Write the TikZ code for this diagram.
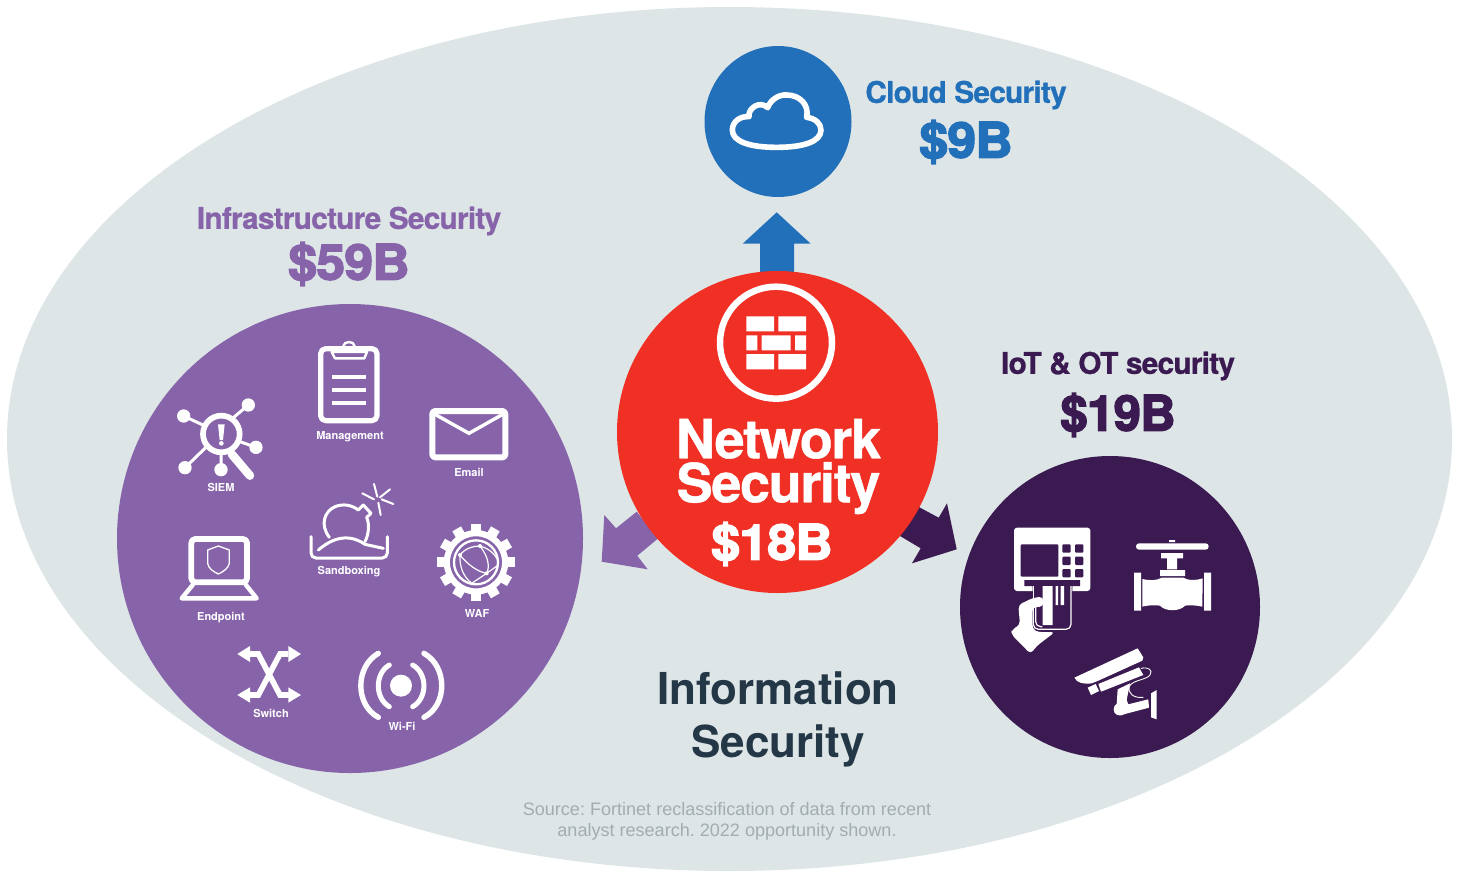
\documentclass[tikz,border=0pt]{standalone}
\usepackage{fontspec}
\usetikzlibrary{shapes.geometric}
\setmainfont{TeX Gyre Heros}
\newfontfamily\heavy[FakeBold=3.2,FakeStretch=1.05,LetterSpace=-1.2]{TeX Gyre Heros}
\newfontfamily\tight[FakeBold=0.8,LetterSpace=-2.5]{TeX Gyre Heros}
\newfontfamily\infofont{TeX Gyre Heros}
\newfontfamily\srcfont{Liberation Sans}
\frenchspacing
\definecolor{bgc}{HTML}{DDE5E7}
\definecolor{bluec}{HTML}{2270B9}
\definecolor{redc}{HTML}{F03024}
\definecolor{purc}{HTML}{8764AA}
\definecolor{drkc}{HTML}{3A1A50}
\definecolor{infc}{HTML}{233746}
\definecolor{srcc}{HTML}{A3ACB0}
\tikzset{
  disc/.style={ellipse,inner sep=0pt,draw=none,fill=#1},
  ttl/.style={font=\tight\bfseries\fontsize{29.8}{32}\selectfont,text=#1,inner sep=0pt},
  amt/.style={font=\heavy\bfseries\fontsize{49}{50}\selectfont,text=#1,inner sep=0pt},
  lab/.style={font=\bfseries\fontsize{11}{12}\selectfont,text=white,inner sep=0pt},
  wl/.style={draw=white,line join=round,line cap=round,fill=none}
}
\begin{document}
\begin{tikzpicture}[x=1pt,y=-1pt]
\useasboundingbox (0,0) rectangle (1459,871);
\begin{scope}
\clip (0,0) rectangle (1459,871);
\node[disc=bgc,minimum width=1445pt,minimum height=864pt] (info) at (729.5,439) {};
\end{scope}
% arrows
\fill[bluec] (776.7,212.3) -- (810.7,243.7) -- (794,243.7) -- (794,285) -- (760,285) -- (760,243.7) -- (742.7,243.7) -- cycle;
\fill[purc] (604.3,515) -- (616,528.3) -- (636.7,511.7) -- (658.3,538.3) -- (637.3,555.7) -- (647.7,569.3) -- (601.7,561.7) -- cycle;
\fill[drkc] (947,503.3) -- (938.7,517.7) -- (918.3,506.7) -- (900,536) -- (920.7,548.3) -- (912,563.3) -- (956.7,549.3) -- cycle;
% discs
\node[disc=bluec,minimum width=147pt,minimum height=151pt] (cloud) at (778,121.5) {};
\node[disc=redc,minimum width=321pt,minimum height=322pt] (net) at (777.5,432) {};
\node[disc=purc,minimum width=466pt,minimum height=469pt] (infra) at (350,538.5) {};
\node[disc=drkc,minimum width=300pt,minimum height=302pt] (iot) at (1110,607) {};
% cloud icon
\begin{scope}[shift={(700,40)},scale=1/3]
\draw[wl,line width=5.6pt] (230,322) .. controls (150,322) and (97,305) .. (97,270) .. controls (97,245) and (120,228) .. (147,230) .. controls (143,205) and (180,180) .. (203,203) .. controls (212,178) and (238,163) .. (260,165) .. controls (300,165) and (328,195) .. (320,232) .. controls (345,235) and (363,250) .. (363,270) .. controls (363,305) and (310,322) .. (230,322) -- cycle;
\end{scope}
% firewall icon
\begin{scope}[shift={(590,200)},scale=1/3]
\draw[white,line width=6.5pt] (558,428) circle[radius=168];
\fill[white] (469,349) rectangle (552,394) (565,349) rectangle (648,394)
 (469,406) rectangle (502,451) (515,406) rectangle (602,451) (615,406) rectangle (648,451)
 (469,462) rectangle (552,508) (565,462) rectangle (648,508);
\end{scope}
% Management + SIEM + Email
\begin{scope}[shift={(150,330)},scale=1/3]
\draw[wl,line width=5.2pt,rounded corners=5pt] (512,56) rectangle (681,272);
\draw[wl,line width=2.4pt,fill=purc] (545,66) -- (651,66) -- (643,85) -- (555,85) -- cycle;
\draw[wl,line width=2.4pt] (580,48) .. controls (582,32) and (612,32) .. (614,48);
\foreach \yy in {141,180,219}{\fill[white] (546,\yy-6) rectangle (648,\yy+6);}
\draw[wl,line width=6pt,rounded corners=3pt] (847,243) rectangle (1066,382);
\draw[draw=white,line join=miter,line width=3.4pt] (855,253) -- (957,310) -- (1058,253);
% SIEM
\draw[white,line width=5.7pt] (214,312) circle[radius=55];
\draw[white,line width=3pt] (101,258) -- (165,288) (295,225) -- (250,263) (318,352) -- (270,335) (105,413) -- (170,350) (213,419) -- (213,365);
\fill[white] (101,258) circle[radius=20] (295,225) circle[radius=20] (318,352) circle[radius=20] (105,413) circle[radius=20] (213,419) circle[radius=20];
\draw[white,line width=8.5pt,line cap=round] (245,372) -- (300,437);
\fill[white] (204,283) -- (224,283) -- (219,330) -- (209,330) -- cycle (214,340) circle[radius=7];
\end{scope}
% Sandboxing bomb
\begin{scope}[shift={(300,480)},scale=1/3]
\draw[wl,line width=3pt] (88,172) .. controls (60,135) and (72,95) .. (105,80) .. controls (130,70) and (155,75) .. (175,90) -- (190,75) -- (213,100) -- (200,112) .. controls (210,135) and (205,165) .. (195,185);
\draw[wl,line width=3pt] (55,210) .. controls (90,180) and (140,155) .. (195,193) -- (250,205);
\draw[wl,line width=3pt,rounded corners=5pt] (33,170) -- (33,234) -- (262,234) -- (262,170);
\draw[wl,line width=2pt] (222,12) -- (232,50) (270,28) -- (240,52) (280,72) -- (245,58) (242,105) -- (235,68) (187,40) -- (222,58);
\end{scope}
% Endpoint, Switch, WiFi
\begin{scope}[shift={(160,510)},scale=1/3]
\draw[wl,line width=5.8pt,rounded corners=4pt] (94,87) rectangle (261,217);
\draw[wl,line width=4.4pt] (98,225) -- (65,265) -- (290,265) -- (258,225);
\draw[wl,line width=1.3pt] (175,108) -- (143,120) -- (143,160) .. controls (145,175) and (160,185) .. (175,192) .. controls (190,185) and (205,175) .. (208,160) -- (208,120) -- cycle;
\draw[white,line width=5.6pt,line join=miter] (270,432) -- (295,432) -- (360,555) -- (390,555);
\draw[white,line width=5.6pt,line join=miter] (385,432) -- (360,432) -- (295,555) -- (265,555);
\fill[white] (232,432) -- (270,408) -- (270,456) -- cycle (423,432) -- (385,408) -- (385,456) -- cycle
 (232,555) -- (270,532) -- (270,578) -- cycle (423,555) -- (385,532) -- (385,578) -- cycle;
\fill[white] (723,527) circle[radius=33];
\draw[wl,line width=5pt] (688,465) .. controls (644,490) and (644,565) .. (688,590);
\draw[wl,line width=5pt] (758,465) .. controls (803,490) and (803,565) .. (758,590);
\draw[wl,line width=5.4pt] (655,430) .. controls (585,470) and (585,585) .. (655,622);
\draw[wl,line width=5.4pt] (792,430) .. controls (863,470) and (863,585) .. (792,622);
\end{scope}
% WAF gear
\begin{scope}[shift={(430,520)},scale=1/3]
\foreach \a in {0,30,...,330}{\fill[white,rotate around={\a:(138,127)}] (123,11) rectangle (153,45);}
\draw[white,line width=6.2pt] (138,127) circle[radius=87.5];
\draw[white,line width=2.3pt] (138,127) circle[radius=66];
\draw[wl,line width=1.2pt] (90,105) .. controls (105,85) and (130,78) .. (150,78) .. controls (175,110) and (180,140) .. (170,160) .. controls (140,155) and (110,130) .. (90,105) .. controls (88,140) and (100,170) .. (125,190) -- (170,160) -- (205,135) (150,78) .. controls (175,85) and (195,100) .. (205,125);
\fill[white] (90,105) circle[radius=6] (150,78) circle[radius=6] (170,160) circle[radius=6];
\end{scope}
% ATM + Valve
\begin{scope}[shift={(990,510)},scale=1/3]
\fill[white,rounded corners=3pt] (72,53) rectangle (301,243);
\fill[drkc,rounded corners=1pt] (92,103) rectangle (205,200);
\foreach \xx in {217,255}{\foreach \yy in {103,140,177}{\fill[drkc,rounded corners=1pt] (\xx,\yy) rectangle (\xx+25,\yy+25);}}
\fill[drkc] (103,210) rectangle (270,228) (128,228) rectangle (247,250);
\fill[white,rounded corners=4pt] (85,285) -- (130,263) -- (160,260) -- (160,290) -- (128,292) -- (128,358) -- (145,366) -- (195,366) -- (140,408) -- (122,432) -- (63,372) -- (66,358) -- (90,345) -- cycle;
\fill[drkc,rounded corners=3pt] (128,292) -- (128,350) -- (137,364) -- (245,364) -- (245,300) -- cycle;
\draw[white,line width=1.2pt,rounded corners=3pt] (131,228) -- (131,290);
\draw[white,line width=1.2pt,rounded corners=5pt] (130,290) -- (130,358) -- (243,358) -- (243,228);
\draw[white,line width=1.2pt,rounded corners=5pt] (137,290) -- (137,350) -- (157,350);
\fill[white] (158,228) rectangle (188,345) (197,228) rectangle (204,285) (212,228) rectangle (222,285);
% valve
\fill[white,rounded corners=3pt] (438,100) rectangle (656,119);
\fill[white] (537,90) rectangle (555,96) (513,129) rectangle (579,145) (531,145) rectangle (561,178) (510,180) rectangle (585,198);
\fill[white] (432,188) rectangle (453,302) (642,188) rectangle (663,302);
\fill[white] (457,207) .. controls (480,212) and (500,212) .. (515,203) -- (580,203) .. controls (595,212) and (615,212) .. (638,205) -- (637,290) .. controls (615,285) and (595,285) .. (585,287) .. controls (570,305) and (525,305) .. (510,287) .. controls (495,285) and (475,285) .. (457,290) -- cycle;
\end{scope}
% Camera
\begin{scope}[shift={(1065,640)},scale=1/3]
\fill[white] (28,113) -- (218,25) -- (235,52) -- (232,62) -- (100,122) -- (80,130) .. controls (55,133) and (35,128) .. (28,113) -- cycle;
\fill[white] (100,132) -- (222,82) -- (235,105) -- (108,155) -- cycle;
\fill[white] (68,143) -- (92,132) -- (102,153) -- (78,165) -- cycle;
\fill[white] (158,148) -- (195,130) -- (185,180) -- (190,193) -- (250,178) -- (252,203) -- (180,222) .. controls (165,232) and (145,225) .. (146,208) .. controls (146,198) and (150,195) .. (155,192) -- cycle;
\fill[white] (258,160) -- (275,150) -- (275,238) -- (258,232) -- cycle;
\draw[white,line width=0.9pt] (228,85) .. controls (250,80) and (265,90) .. (255,105) .. controls (245,120) and (200,120) .. (193,140) .. controls (188,160) and (205,175) .. (235,172);
\end{scope}
% labels
\node[ttl=bluec] (tcloud) at (966,95) {Cloud Security};
\node[amt=bluec] (acloud) at (966,142) {\$9B};
\node[ttl=purc] (tinfra) at (349,221) {Infrastructure Security};
\node[amt=purc] (ainfra) at (349,264) {\$59B};
\node[ttl=drkc] (tiot) at (1118,366) {IoT \& OT security};
\node[amt=drkc,xscale=0.95] (aiot) at (1118,415) {\$19B};
\node[font=\tight\bfseries\fontsize{54}{44}\selectfont,text=white,inner sep=0pt,align=center] (tnet) at (778.5,466.5) {Network\\Security};
\node[amt=white] (anet) at (772,544) {\$18B};
\node[font=\infofont\bfseries\fontsize{44}{53}\selectfont,text=infc,inner sep=0pt,align=center] (tinfo) at (778,719) {Information\\Security};
\node[font=\srcfont\fontsize{18.05}{22}\selectfont,text=srcc,inner sep=0pt] (src1) at (727,809) {Source: Fortinet reclassification of data from recent};
\node[font=\srcfont\fontsize{18.05}{22}\selectfont,text=srcc,inner sep=0pt] (src2) at (727,832) {analyst research. 2022 opportunity shown.};
\node[lab] (l1) at (350,437) {Management};
\node[lab] (l2) at (221,487) {SIEM};
\node[lab] (l3) at (469,472) {Email};
\node[lab] (l4) at (349,572) {Sandboxing};
\node[lab] (l5) at (221,618) {Endpoint};
\node[lab] (l6) at (477,613) {WAF};
\node[lab] (l7) at (271,713) {Switch};
\node[lab] (l8) at (402,726) {Wi-Fi};
\end{tikzpicture}
\end{document}
